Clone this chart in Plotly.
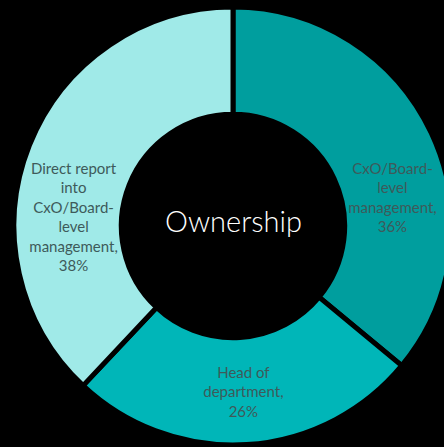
import plotly.graph_objects as go

labels = ["CxO/Board-level management", "Head of department", "Direct report into CxO/Board-level management"]
label_text = ["CxO/Board-<br>level<br>management,", "Head of<br>department,", "Direct report<br>into<br>CxO/Board-<br>level<br>management,"]
values = [36, 26, 38]
colors = ["#009E9E", "#00B6B8", "#A0EAE8"]
center_title = "Ownership"

# trailing blank lines nudge the label block upward, as in the original layout
pad = ["<br> <br> <br> ", "", "<br> "]
templates = ["%{text}<br>%{value}%" + p for p in pad]

fig = go.Figure(go.Pie(
    labels=labels,
    values=values,
    text=label_text,
    texttemplate=templates,
    textposition="inside",
    insidetextorientation="horizontal",
    textfont=dict(family="Lato, Open Sans, sans-serif", size=15, color="#3E5A5A"),
    marker=dict(colors=colors, line=dict(color="#000000", width=5)),
    hole=0.51,
    sort=False,
    direction="clockwise",
    rotation=0,
    showlegend=False,
    hoverinfo="none",
))

fig.add_annotation(
    text=center_title, x=0.5, y=0.5, xref="paper", yref="paper",
    showarrow=False, yshift=6,
    font=dict(family="Lato, Open Sans, sans-serif", size=29, color="#FFFFFF", weight=300),
)

fig.update_layout(
    width=466, height=447,
    margin=dict(l=14, r=14, t=7, b=2),
    paper_bgcolor="#000000",
    plot_bgcolor="#000000",
)

fig.write_html("out.html", config={"displayModeBar": False},
               post_script="document.body.style.margin='0';document.body.style.overflow='hidden';")
